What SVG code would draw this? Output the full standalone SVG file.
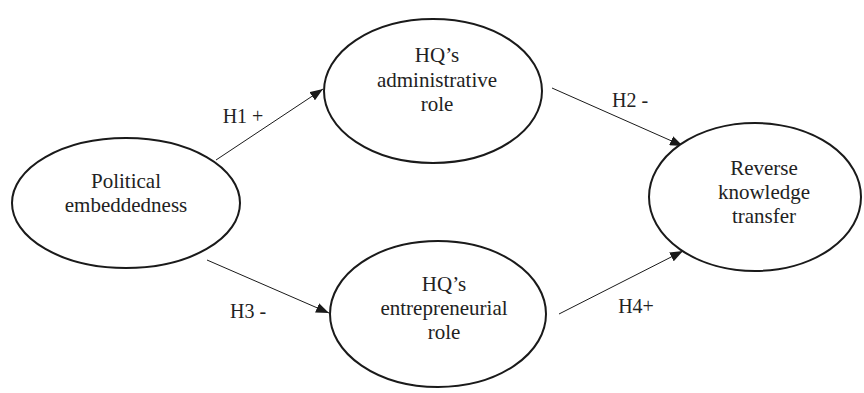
<svg xmlns="http://www.w3.org/2000/svg" width="864" height="393" viewBox="0 0 864 393">
<defs>
<style>
.node ellipse{fill:#fff;stroke:#1a1a1a;stroke-width:2}
text{font-family:'Liberation Serif','DejaVu Serif',serif;font-size:21px;fill:#222;text-anchor:middle}
.lbl{font-size:20px}
.conn line{stroke:#1a1a1a;stroke-width:1}
</style>
<marker id="arr" markerWidth="14" markerHeight="10" refX="13" refY="5" orient="auto" markerUnits="userSpaceOnUse">
<path d="M0,0 L13,5 L0,10 Z" fill="#1a1a1a"/>
</marker>
</defs>
<rect width="864" height="393" fill="#fff"/>
<g class="conn">
<line x1="216" y1="160" x2="323" y2="89" marker-end="url(#arr)"/>
<line x1="552" y1="88" x2="683" y2="146" marker-end="url(#arr)"/>
<line x1="207" y1="260" x2="329" y2="313" marker-end="url(#arr)"/>
<line x1="559" y1="314" x2="683" y2="251" marker-end="url(#arr)"/>
<text class="lbl" x="243" y="123" font-family="Liberation Serif, serif">H1 +</text>
<text class="lbl" x="630" y="107" font-family="Liberation Serif, serif">H2 -</text>
<text class="lbl" x="248" y="318" font-family="Liberation Serif, serif">H3 -</text>
<text class="lbl" x="636" y="313" font-family="Liberation Serif, serif">H4+</text>
</g>
<g id="political" class="node" font-family="Liberation Serif, serif">
<ellipse cx="126" cy="203" rx="114" ry="65"/>
<text x="126" y="188">Political</text>
<text x="126" y="212">embeddedness</text>
</g>
<g id="administrative" class="node">
<ellipse cx="433" cy="91" rx="109" ry="72"/>
<text x="437" y="62">HQ’s</text>
<text x="437" y="87">administrative</text>
<text x="437" y="111">role</text>
</g>
<g id="entrepreneurial" class="node">
<ellipse cx="438" cy="314" rx="108" ry="73"/>
<text x="444" y="291">HQ’s</text>
<text x="444" y="315">entrepreneurial</text>
<text x="444" y="339">role</text>
</g>
<g id="reverse" class="node">
<ellipse cx="755" cy="197" rx="106" ry="74"/>
<text x="764" y="175">Reverse</text>
<text x="764" y="199">knowledge</text>
<text x="764" y="223">transfer</text>
</g>
</svg>
